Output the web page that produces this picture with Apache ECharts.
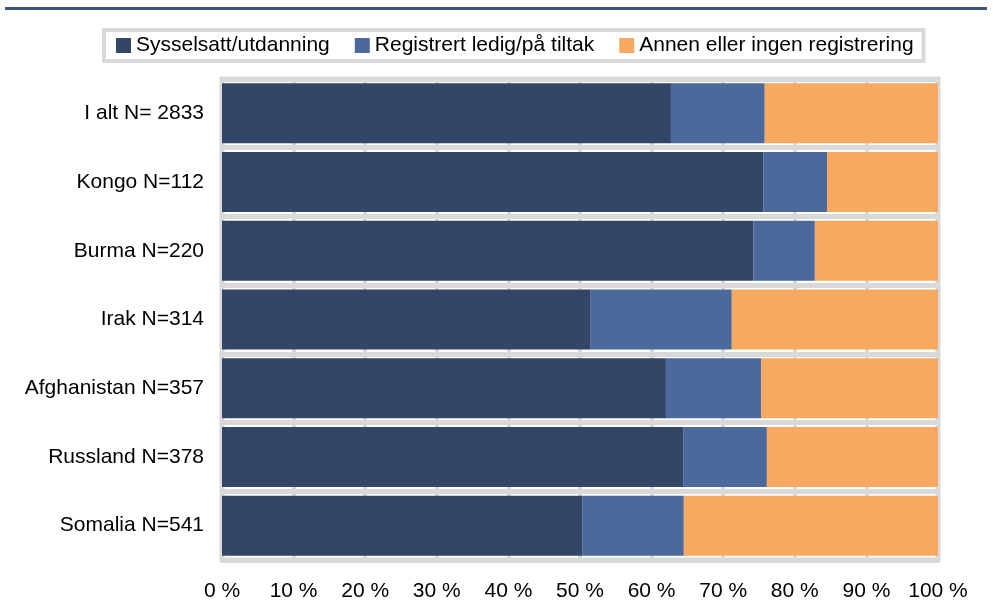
<!DOCTYPE html>
<html>
<head>
<meta charset="utf-8">
<script src="https://cdn.jsdelivr.net/npm/echarts@6/dist/echarts.min.js"></script>
<style>
html, body { margin: 0; padding: 0; background: #fff; }
#chart { width: 993px; height: 616px; }
</style>
</head>
<body>
<div id="chart"></div>
<script>
// kategorier, ovenfra og ned
var categories = ['I alt N= 2833', 'Kongo N=112', 'Burma N=220', 'Irak N=314', 'Afghanistan N=357', 'Russland N=378', 'Somalia N=541'];
var seriesNames = ['Sysselsatt/utdanning', 'Registrert ledig/på tiltak', 'Annen eller ingen registrering'];
var sysselsatt = [62.7, 75.6, 74.2, 51.5, 62.0, 64.4, 50.3];
var ledig = [13.1, 8.9, 8.6, 19.7, 13.3, 11.7, 14.2];
var annen = [24.2, 15.5, 17.2, 28.8, 24.7, 23.9, 35.5];
var xTicks = [0, 10, 20, 30, 40, 50, 60, 70, 80, 90, 100];

var colors = ['#344668', '#4b6a9b', '#f6a95f'];
var font = 'Liberation Sans, Arial, sans-serif';

function makeSeries(name, values, color) {
	return {
		name : name,
		type : 'bar',
		stack : 'total',
		barWidth : 60,
		itemStyle : {
			color : color
		},
		data : values
	};
}

var myChart = echarts.init(document.getElementById('chart'));
var option = {
	animation : false,
	textStyle : {
		fontFamily : font
	},
	legend : {
		left : 104,
		top : 30,
		padding : [ 5, 10, 5, 12 ],
		borderColor : '#d9d9d9',
		borderWidth : 4,
		itemWidth : 15,
		itemHeight : 15,
		itemGap : 25,
		icon : 'rect',
		textStyle : {
			fontSize : 21,
			color : '#000',
			fontFamily : font
		},
		data : seriesNames
	},
	graphic : [ {
		type : 'rect',
		shape : {
			x : 5,
			y : 7,
			width : 982,
			height : 3
		},
		style : {
			fill : '#3e5482'
		}
	} ],
	grid : {
		left : 222,
		right : 55,
		top : 79,
		bottom : 56,
		show : true,
		borderColor : '#d9d9d9',
		borderWidth : 5
	},
	xAxis : {
		type : 'value',
		min : 0,
		max : 100,
		interval : 10,
		axisLine : {
			show : false
		},
		axisTick : {
			show : false
		},
		axisLabel : {
			margin : 21,
			fontSize : 21,
			color : '#000',
			fontFamily : font,
			formatter : function(v) {
				return xTicks.indexOf(v) >= 0 ? v + ' %' : '';
			}
		},
		splitLine : {
			lineStyle : {
				color : '#d9d9d9',
				width : 4
			}
		}
	},
	yAxis : {
		type : 'category',
		inverse : true,
		data : categories,
		axisLine : {
			show : false
		},
		axisTick : {
			show : false
		},
		axisLabel : {
			margin : 18,
			fontSize : 21,
			color : '#000',
			fontFamily : font
		},
		splitLine : {
			show : true,
			lineStyle : {
				color : '#d9d9d9',
				width : 5
			}
		}
	},
	series : [ makeSeries(seriesNames[0], sysselsatt, colors[0]),
			makeSeries(seriesNames[1], ledig, colors[1]),
			makeSeries(seriesNames[2], annen, colors[2]) ]
};
myChart.setOption(option);
</script>
</body>
</html>
